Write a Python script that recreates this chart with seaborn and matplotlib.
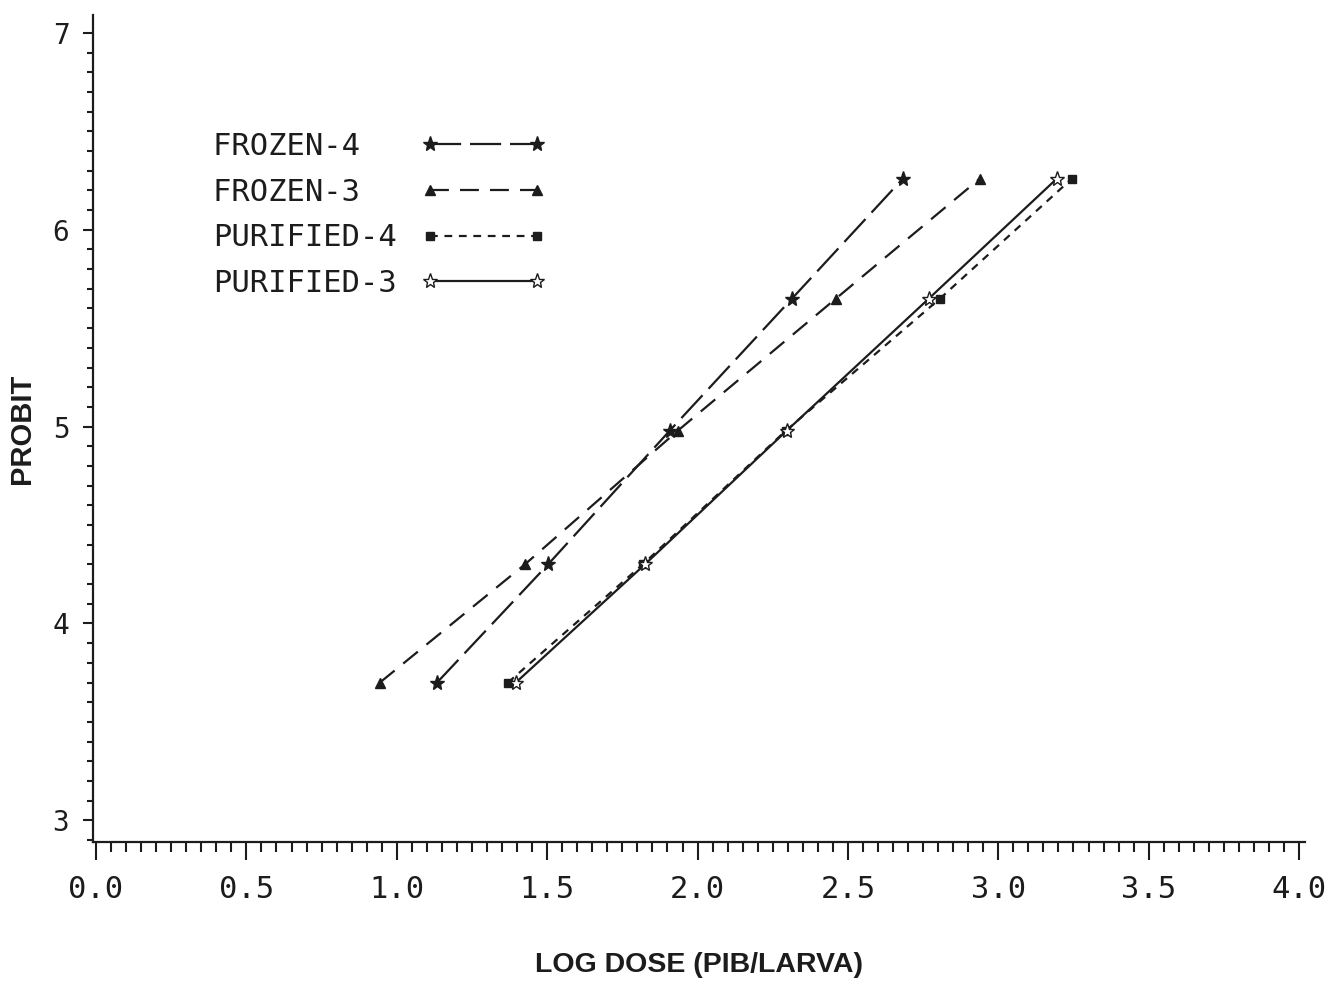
import matplotlib
matplotlib.use("Agg")
import matplotlib.pyplot as plt
import numpy as np
import pandas as pd
import seaborn as sns
from matplotlib.ticker import MultipleLocator

# probit levels (same for every group)
probit = [3.70, 4.30, 4.98, 5.65, 6.26]

# log dose
frozen4 = [1.134, 1.503, 1.908, 2.314, 2.683]
frozen3 = [0.944, 1.426, 1.935, 2.460, 2.939]
purified4 = [1.370, 1.818, 2.294, 2.806, 3.245]
purified3 = [1.396, 1.825, 2.297, 2.769, 3.195]

labels = ["FROZEN-4", "FROZEN-3", "PURIFIED-4", "PURIFIED-3"]
xticks = [0.0, 0.5, 1.0, 1.5, 2.0, 2.5, 3.0, 3.5, 4.0]
yticks = [3, 4, 5, 6, 7]

ink = "#1c1c1c"
mono = ["DejaVu Sans Mono"]
bold = ["Liberation Sans", "DejaVu Sans"]

sns.set_style("ticks")

fig = plt.figure(figsize=(13.29, 9.82), dpi=100)
ax = fig.add_axes([0.070, 0.1426, 0.912, 0.842])

styles = {
    "FROZEN-4": dict(ls=(0, (14, 4)), marker="*", ms=11, mfc=ink),
    "FROZEN-3": dict(ls=(0, (8.5, 5)), marker="^", ms=6.5, mfc=ink),
    "PURIFIED-4": dict(ls=(0, (3.5, 3)), marker="s", ms=5.5, mfc=ink),
    "PURIFIED-3": dict(ls="-", marker="*", ms=11, mfc="white"),
}

# pad names so the monospace legend text lines up on the left
width = max(len(s) for s in labels)
for name, xs in zip(labels, [frozen4, frozen3, purified4, purified3]):
    df = pd.DataFrame({"dose": xs, "probit": probit})
    st = styles[name]
    sns.lineplot(data=df, x="dose", y="probit", ax=ax, color=ink, lw=1.6,
                 linestyle=st["ls"], marker=st["marker"], markersize=st["ms"],
                 markerfacecolor=st["mfc"], markeredgecolor=ink,
                 markeredgewidth=1.0, label=name.ljust(width))

ax.set_xlim(-0.01, 4.02)
ax.set_ylim(2.89, 7.09)

sns.despine(ax=ax)
for sp in ["left", "bottom"]:
    ax.spines[sp].set_linewidth(1.6)
    ax.spines[sp].set_color(ink)

ax.set_xticks(xticks)
ax.set_xticklabels([f"{v:.1f}" for v in xticks], family=mono, fontsize=22, color=ink)
ax.set_yticks(yticks)
ax.set_yticklabels([str(v) for v in yticks], family=mono, fontsize=20, color=ink)
ax.xaxis.set_minor_locator(MultipleLocator(0.05))
ax.yaxis.set_minor_locator(MultipleLocator(0.1))
ax.tick_params(axis="x", which="major", length=13, width=1.5, pad=11, color=ink)
ax.tick_params(axis="x", which="minor", length=7, width=1.5, color=ink)
ax.tick_params(axis="y", which="major", length=7, width=1.5, pad=10, color=ink)
ax.tick_params(axis="y", which="minor", length=4.5, width=1.5, color=ink)

ax.set_xlabel("LOG DOSE (PIB/LARVA)", family=bold, fontweight="bold",
              fontsize=20.5, color=ink, labelpad=34)
ax.set_ylabel("PROBIT", family=bold, fontweight="bold",
              fontsize=21, color=ink, labelpad=12)

leg = ax.legend(loc="upper left", bbox_to_anchor=(0.099, 0.859), frameon=False,
                markerfirst=False, numpoints=2, handlelength=4.1,
                handletextpad=0.8, labelspacing=0.55, borderpad=0,
                borderaxespad=0, prop={"family": mono, "size": 22})
for t in leg.get_texts():
    t.set_color(ink)

fig.savefig("out.png", dpi=100)
